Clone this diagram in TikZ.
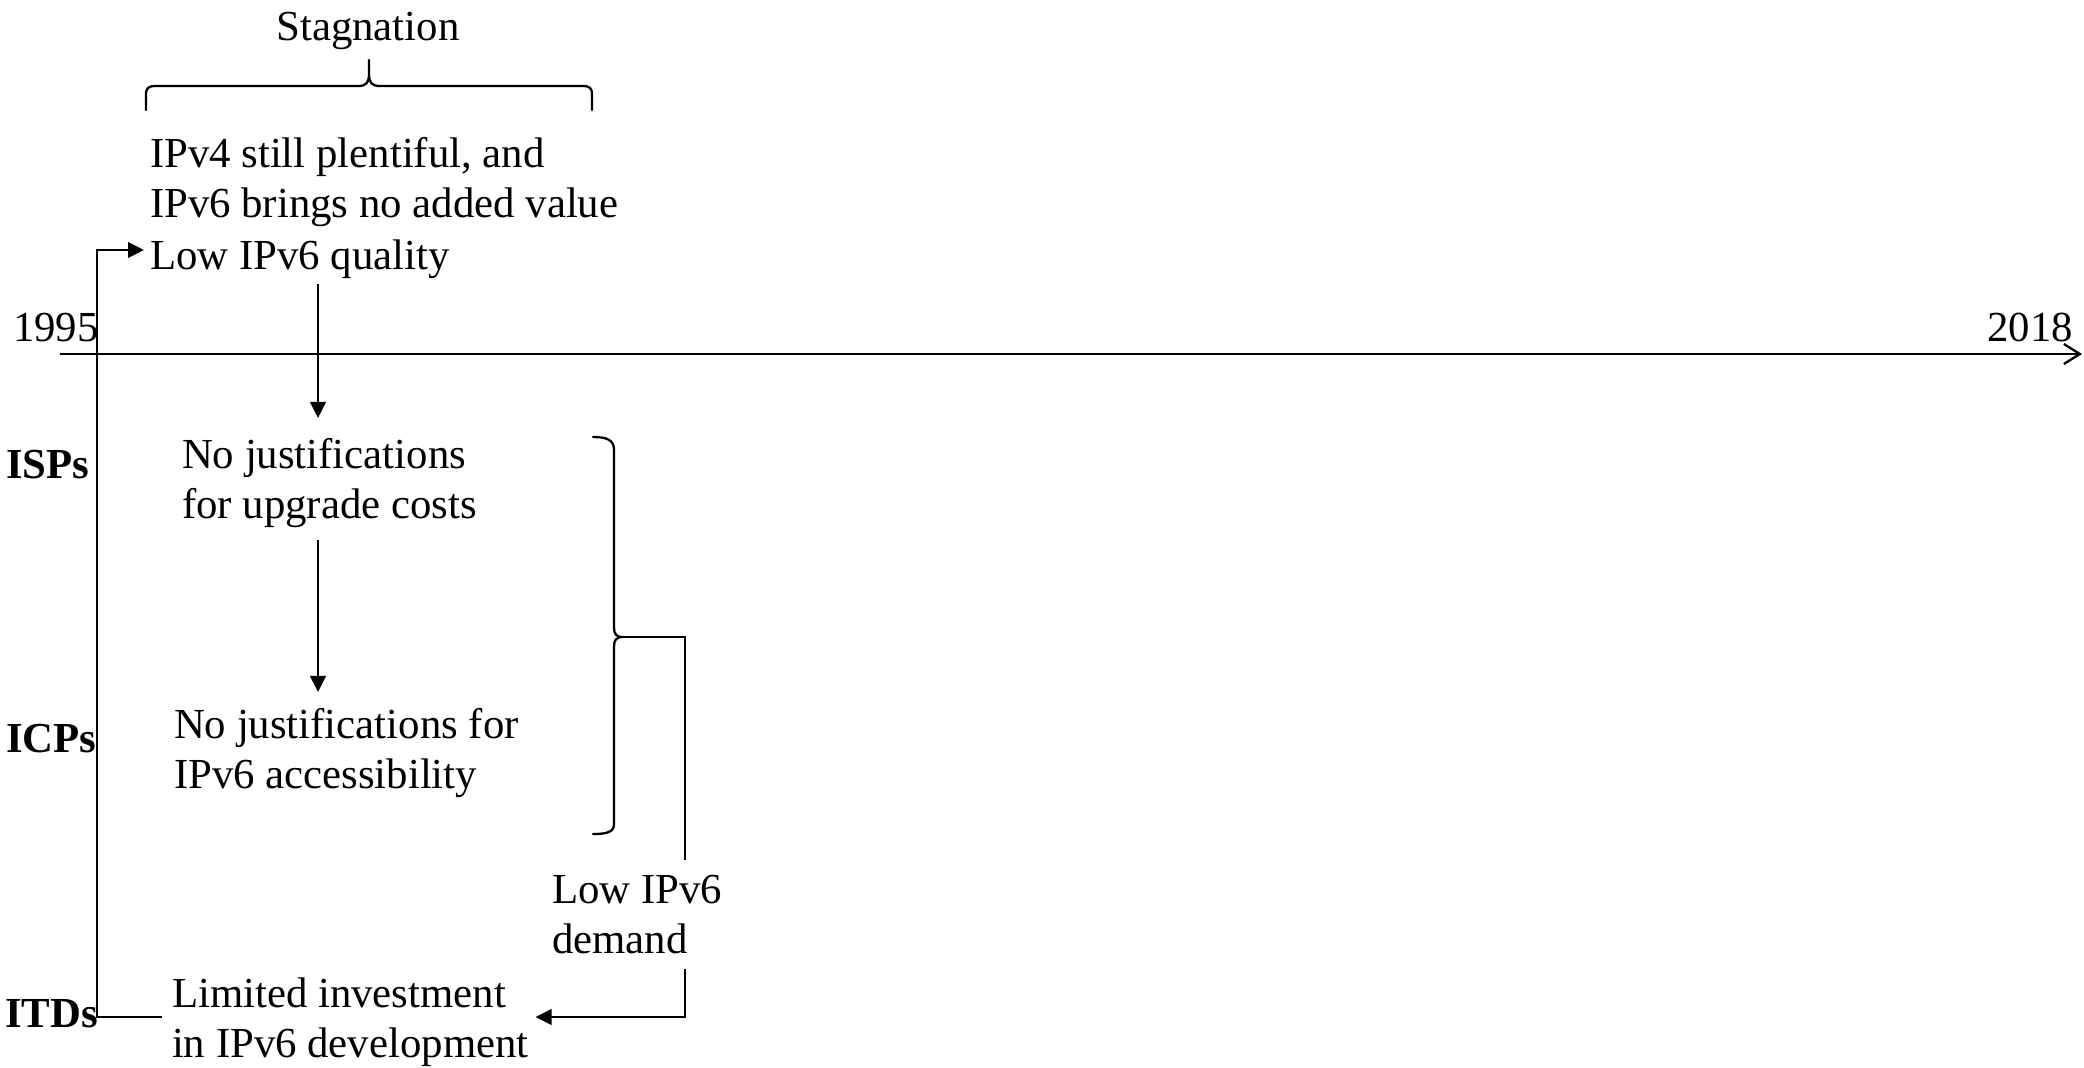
\documentclass[tikz,border=0pt]{standalone}
\usepackage{fontspec}
\setmainfont{Liberation Serif}
\usetikzlibrary{arrows.meta,calc}
% left-aligned block whose baseline is that of its first line
\newcommand\blocktext[1]{\begin{tabular}[t]{@{}l@{}}#1\end{tabular}}

\begin{document}
\begin{tikzpicture}[x=0.5pt,y=-0.5pt,
  every node/.style={inner sep=0pt,outer sep=0pt,font=\fontsize{21.4pt}{25.3pt}\selectfont},
  lbl/.style={anchor=base west},
  actor/.style={anchor=base west,font=\fontsize{21.4pt}{25.3pt}\selectfont\bfseries},
  link/.style={line width=1.15pt},
  arr/.style={link,-{Triangle[length=8pt,width=7.8pt]}},
  bracepath/.style={line width=1.15pt,line join=round,line cap=round}]

\path[use as bounding box] (0,0) rectangle (2084,1067);

% texts
\node[anchor=base] (stag) at (368,40) {Stagnation};
\node[lbl] (premise) at (150,167) {\blocktext{IPv4 still plentiful, and\\IPv6 brings no added value}};
\node[lbl] (quality) at (150,269) {\blocktext{Low IPv6 quality}};
\node[lbl] (y1995) at (13,341) {1995};
\node[anchor=base east] (y2018) at (2073,341) {2018};
\node[actor] (isp) at (6,478) {ISPs};
\node[actor] (icp) at (6,752) {ICPs};
\node[actor] (itd) at (5,1027) {ITDs};
\node[lbl] (upgrade) at (182,468) {\blocktext{No justifications\\for upgrade costs}};
\node[lbl] (access) at (174,738) {\blocktext{No justifications for\\IPv6 accessibility}};
\node[lbl] (demand) at (552,903) {\blocktext{Low IPv6\\demand}};
\node[lbl] (invest) at (172,1007) {\blocktext{Limited investment\\in IPv6 development}};

% helper coordinates
\coordinate (axisL) at (60,354);
\coordinate (axisR) at (2082,354);
\coordinate (colA) at (318,0);
\coordinate (colB) at (685,0);
\coordinate (loopT) at (97,250);
\coordinate (loopB) at (97,1017);
\coordinate (braceTip) at (623,637);

% time axis
\draw[link,-{Straight Barb[length=8pt,width=10pt]}] (axisL) -- (axisR);

% brace under "Stagnation"
\draw[bracepath] (146,110) -- (146,95) .. controls (146,88) and (148,86) .. (156,86)
  -- (358,86) .. controls (366,86) and (369,83) .. (369,74) -- (369,60)
  -- (369,74) .. controls (369,83) and (372,86) .. (380,86)
  -- (582,86) .. controls (590,86) and (592,88) .. (592,95) -- (592,110);

% brace grouping the ISP and ICP causes
\draw[bracepath] (593,437) .. controls (607,437) and (614,440) .. (614,450)
  -- (614,627) .. controls (614,634) and (616,637) .. (braceTip)
  .. controls (616,637) and (614,640) .. (614,647)
  -- (614,824) .. controls (614,832) and (607,834) .. (593,834);

% causal chain
\draw[arr,shorten >=7.3pt] (quality.south -| colA) -- (upgrade.north -| colA);
\draw[arr,shorten <=3pt,shorten >=5.3pt] (upgrade.south -| colA) -- (access.north -| colA);
\draw[link,shorten >=3.8pt] (braceTip) -| (demand.north -| colB);
\draw[arr,shorten >=3.5pt] (demand.south -| colB) |- (invest.east |- loopB);
\draw[arr,shorten <=5pt,shorten >=3pt] (invest.west |- loopB) -- (loopB) -- (loopT) -- (quality.west |- loopT);
\end{tikzpicture}
\end{document}
